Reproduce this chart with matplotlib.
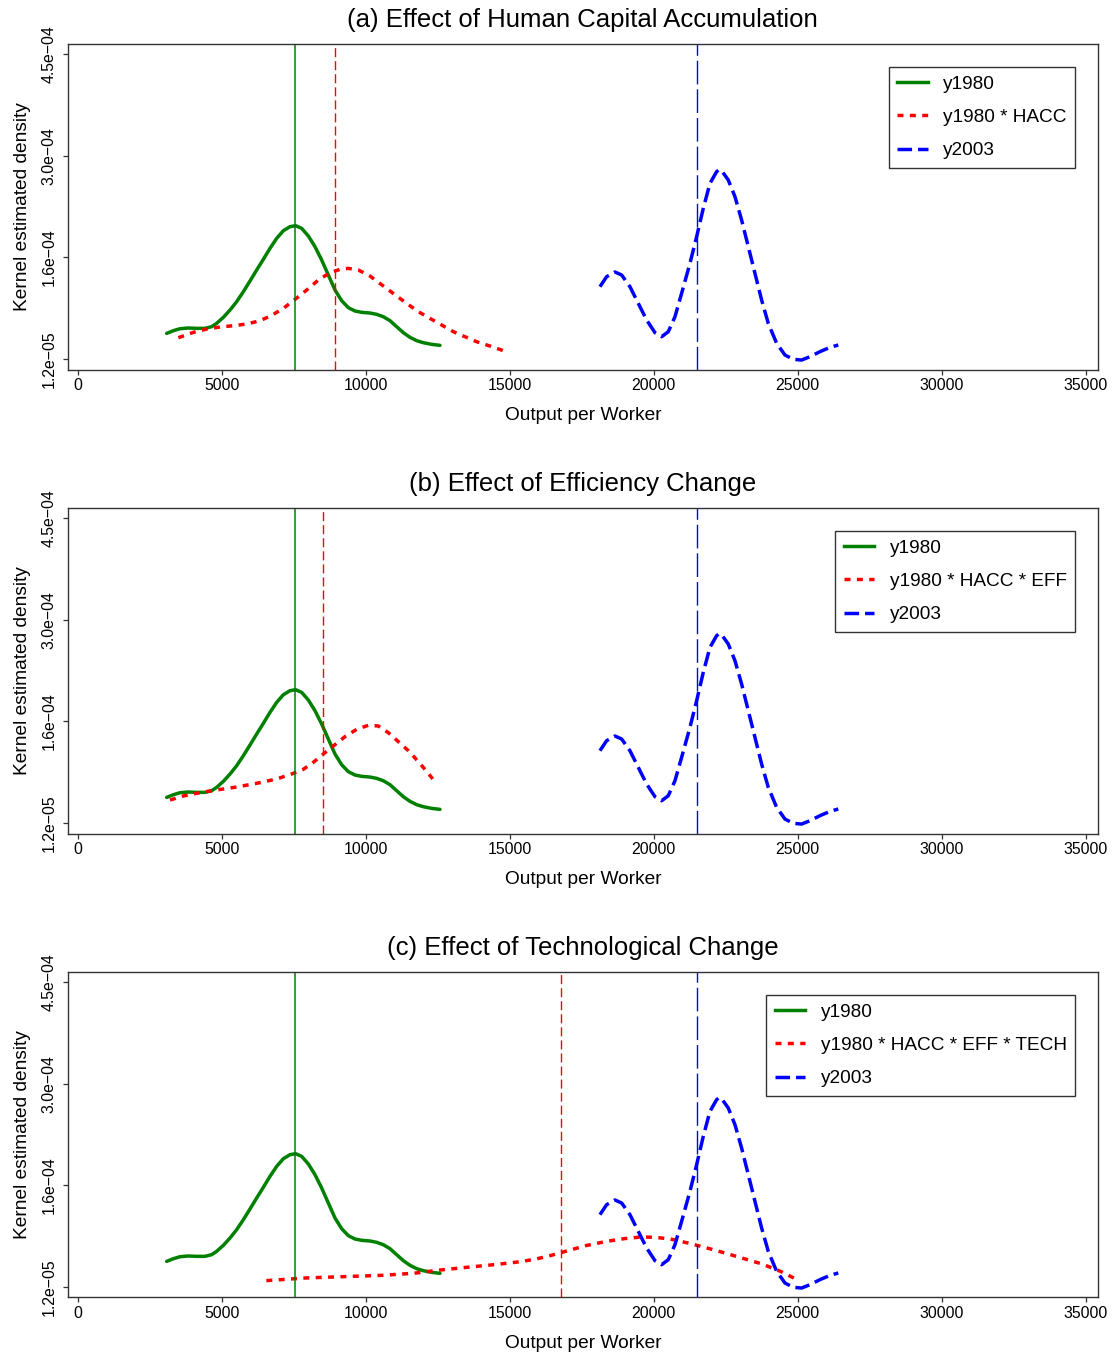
import matplotlib
matplotlib.use("Agg")
import matplotlib.pyplot as plt
from matplotlib.lines import Line2D

plt.rcParams["font.family"] = ["Liberation Sans", "DejaVu Sans"]
plt.rcParams["lines.scale_dashes"] = False

# ---- data -------------------------------------------------------------
# density of output per worker, 1980
y1980_x = [3089, 3320, 3552, 3841, 4130, 4420, 4651, 4825, 5056, 5288, 5519, 5751,
           5982, 6214, 6445, 6677, 6908, 7140, 7371, 7568, 7776, 8008, 8239, 8471,
           8702, 8934, 9165, 9397, 9628, 9859, 10149, 10380, 10612, 10843, 11075,
           11306, 11538, 11769, 12001, 12290, 12579]
y1980_d = [4.88e-5, 5.26e-5, 5.55e-5, 5.65e-5, 5.60e-5, 5.60e-5, 5.84e-5, 6.32e-5,
           7.18e-5, 8.23e-5, 9.43e-5, 1.086e-4, 1.240e-4, 1.398e-4, 1.551e-4, 1.709e-4,
           1.852e-4, 1.962e-4, 2.020e-4, 2.034e-4, 1.996e-4, 1.886e-4, 1.733e-4,
           1.541e-4, 1.326e-4, 1.110e-4, 9.57e-5, 8.57e-5, 8.09e-5, 7.90e-5, 7.80e-5,
           7.61e-5, 7.27e-5, 6.70e-5, 5.84e-5, 4.98e-5, 4.31e-5, 3.83e-5, 3.54e-5,
           3.30e-5, 3.16e-5]

# density of output per worker, 2003
y2003_x = [18134, 18366, 18655, 18887, 19176, 19465, 19755, 20044, 20276, 20507,
           20739, 20970, 21259, 21491, 21722, 21954, 22185, 22272, 22359, 22590, 22822,
           23053, 23285, 23516, 23748, 23979, 24269, 24558, 24847, 25137, 25426,
           25773, 26121, 26410]
y2003_d = [1.158e-4, 1.302e-4, 1.369e-4, 1.326e-4, 1.158e-4, 9.19e-5, 6.80e-5,
           4.98e-5, 4.40e-5, 5.12e-5, 7.27e-5, 1.063e-4, 1.493e-4, 1.876e-4,
           2.283e-4, 2.642e-4, 2.810e-4, 2.838e-4, 2.824e-4, 2.690e-4, 2.451e-4, 2.116e-4,
           1.733e-4, 1.350e-4, 9.67e-5, 6.32e-5, 3.45e-5, 1.77e-5, 1.15e-5, 1.05e-5,
           1.53e-5, 2.25e-5, 2.87e-5, 3.21e-5]

# counterfactual: 1980 with human capital accumulation
hacc_x = [3494, 4015, 4478, 4941, 5403, 5866, 6329, 6734, 7140, 7545, 7950, 8355,
          8760, 9107, 9397, 9744, 10149, 10612, 11075, 11422, 11827, 12232, 12637,
          13042, 13447, 13853, 14315, 14778]
hacc_d = [4.26e-5, 5.02e-5, 5.50e-5, 5.79e-5, 5.98e-5, 6.22e-5, 6.70e-5, 7.46e-5,
          8.47e-5, 9.76e-5, 1.110e-4, 1.254e-4, 1.359e-4, 1.407e-4, 1.421e-4,
          1.398e-4, 1.311e-4, 1.168e-4, 1.024e-4, 9.19e-5, 7.99e-5, 7.03e-5,
          6.08e-5, 5.12e-5, 4.40e-5, 3.68e-5, 3.06e-5, 2.39e-5]

# counterfactual: plus efficiency change
eff_x = [3205, 3668, 4246, 4825, 5519, 6214, 6908, 7429, 7834, 8181, 8529, 8876,
         9281, 9686, 10091, 10438, 10786, 11133, 11480, 11827, 12175, 12464]
eff_d = [4.50e-5, 5.08e-5, 5.56e-5, 5.94e-5, 6.37e-5, 6.90e-5, 7.52e-5, 8.24e-5,
         8.91e-5, 9.91e-5, 1.111e-4, 1.226e-4, 1.360e-4, 1.465e-4, 1.523e-4,
         1.513e-4, 1.417e-4, 1.288e-4, 1.159e-4, 1.001e-4, 8.33e-5, 6.80e-5]

# counterfactual: plus technological change
tech_x = [6550, 7946, 9274, 10603, 11666, 12596, 13527, 14590, 15387, 15918, 16450,
          16981, 17646, 18310, 18975, 19573, 20038, 20569, 21234, 21765, 22430,
          23094, 23758, 24423, 24954]
tech_d = [2.11e-5, 2.50e-5, 2.69e-5, 2.88e-5, 3.17e-5, 3.64e-5, 4.03e-5, 4.46e-5,
          4.84e-5, 5.22e-5, 5.75e-5, 6.37e-5, 7.14e-5, 7.71e-5, 8.14e-5, 8.38e-5,
          8.33e-5, 8.10e-5, 7.47e-5, 6.90e-5, 6.13e-5, 5.32e-5, 4.51e-5, 3.41e-5,
          2.30e-5]

# means of each distribution (vertical reference lines)
mean_1980 = 7560
mean_2003 = 21500
mean_cf = [8950, 8500, 16780]

titles = ["(a) Effect of Human Capital Accumulation",
          "(b) Effect of Efficiency Change",
          "(c) Effect of Technological Change"]
cf_labels = ["y1980 * HACC", "y1980 * HACC * EFF", "y1980 * HACC * EFF * TECH"]
cf_series = [(hacc_x, hacc_d), (eff_x, eff_d), (tech_x, tech_d)]

x_ticks = [0, 5000, 10000, 15000, 20000, 25000, 30000, 35000]
y_ticks = [1.2e-5, 1.58e-4, 3.04e-4, 4.5e-4]
y_ticklabels = ["1.2e\u221205", "1.6e\u221204", "3.0e\u221204", "4.5e\u221204"]

# ---- styling ----------------------------------------------------------
GREEN = "#008000"
RED = "#ff0000"
BLUE = "#0000ff"
LW = 2.5
DOT = (0, (4.3, 4.6))
DASH = (0, (10.5, 4.3))
VDASH = (0, (6.5, 2.9))
VLONG = (0, (17.0, 3.6))

fig = plt.figure(figsize=(11.14, 13.54), dpi=100)
left, width, height = 0.0608, 0.9248, 0.2404
bottoms = [0.7271, 0.3844, 0.04173]

for i in range(3):
    ax = fig.add_axes([left, bottoms[i], width, height])
    cx, cd = cf_series[i]
    ax.plot(y1980_x, y1980_d, color=GREEN, lw=LW, solid_capstyle="round")
    ax.plot(cx, cd, color=RED, lw=LW, linestyle=DOT, dash_capstyle="butt")
    ax.plot(y2003_x, y2003_d, color=BLUE, lw=LW, linestyle=DASH, dash_capstyle="butt")

    ax.axvline(mean_1980, color=GREEN, lw=1.1)
    ax.axvline(mean_cf[i], color=RED, lw=1.0, linestyle=VDASH)
    ax.axvline(mean_2003, color=BLUE, lw=1.0, linestyle=VLONG)

    ax.set_xlim(-347, 35427)
    ax.set_ylim(-3.1e-6, 4.643e-4)
    ax.set_xticks(x_ticks)
    ax.set_xticklabels([str(v) for v in x_ticks], fontsize=11.4)
    ax.set_yticks(y_ticks)
    ax.set_yticklabels(y_ticklabels, fontsize=11.4, rotation=90, va="center")
    ax.tick_params(axis="both", length=3.8, width=0.9, color="#333333")
    ax.tick_params(axis="x", pad=2.3)
    ax.tick_params(axis="y", pad=4)
    for s in ax.spines.values():
        s.set_color("#333333")
        s.set_linewidth(1.0)

    ax.set_title(titles[i], fontsize=18.5, pad=12.5)
    ax.set_xlabel("Output per Worker", fontsize=13.8, labelpad=10)
    ax.set_ylabel("Kernel estimated density", fontsize=13.8, labelpad=8)

    handles = [
        Line2D([], [], color=GREEN, lw=LW),
        Line2D([], [], color=RED, lw=LW, linestyle=DOT, dash_capstyle="butt"),
        Line2D([], [], color=BLUE, lw=LW, linestyle=DASH, dash_capstyle="butt"),
    ]
    leg = ax.legend(handles, ["y1980", cf_labels[i], "y2003"],
                    loc="upper right", fontsize=13.7, frameon=True, fancybox=False,
                    framealpha=1, edgecolor="#333333", borderaxespad=1.2,
                    borderpad=0.45, handlelength=1.6, handletextpad=0.8,
                    labelspacing=0.84)
    leg.get_frame().set_linewidth(1.0)

fig.savefig("out.png", dpi=100)
